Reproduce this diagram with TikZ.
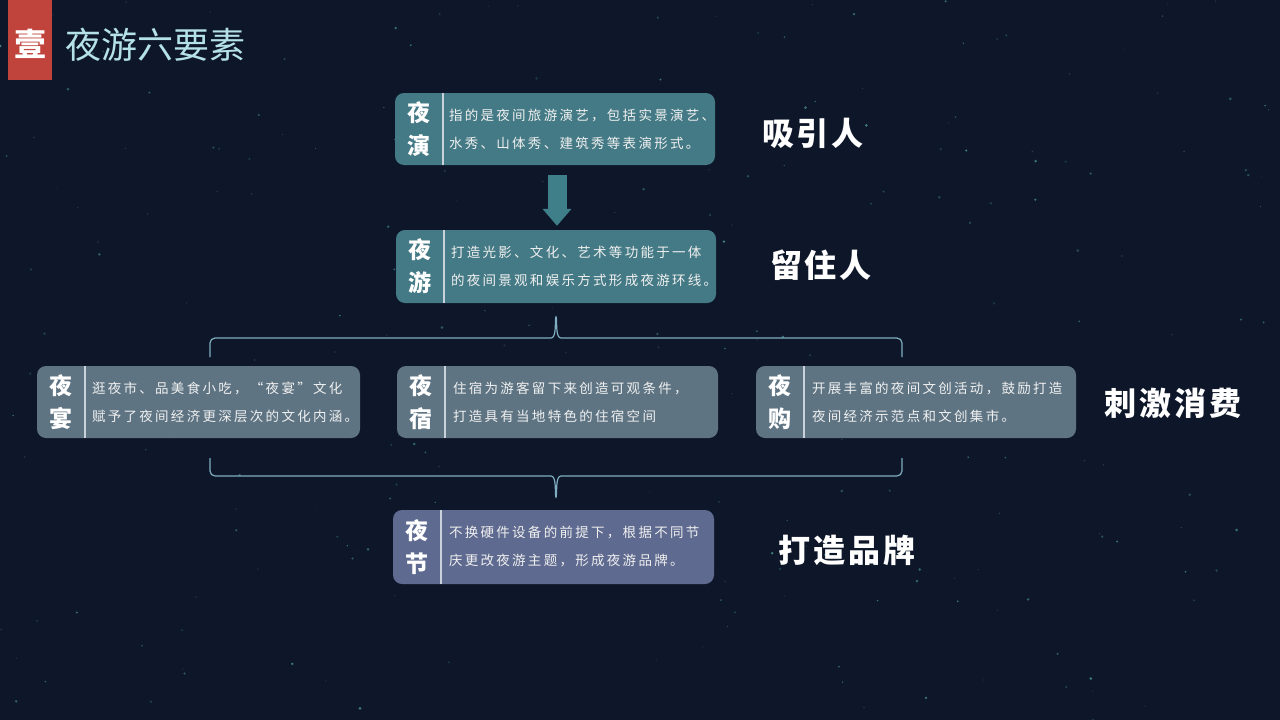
\documentclass[tikz,border=0pt]{standalone}
\usepackage{fontspec}
\usetikzlibrary{arrows.meta}
\newfontfamily\cjk{Noto Sans CJK SC}
\newfontfamily\cjkbody[LetterSpace=17]{Noto Sans CJK SC}
\newfontfamily\cjkwide[LetterSpace=9]{Noto Sans CJK SC}
\definecolor{nightbg}{HTML}{0E1729}
\definecolor{tabred}{HTML}{C0443C}
\definecolor{titlecyan}{HTML}{B4E2E8}
\definecolor{tealcard}{HTML}{447A85}
\definecolor{graycard}{HTML}{5E7483}
\definecolor{violetcard}{HTML}{5E6A8F}
\definecolor{arrowteal}{HTML}{3F7F8A}
\definecolor{divcol}{HTML}{C9D2DA}
\definecolor{bracketcol}{HTML}{7FAEC0}
\definecolor{starcol}{HTML}{5FC4C8}
\begin{document}
\begin{tikzpicture}[x=1pt, y=-1pt,
	card/.style={rectangle, rounded corners=9pt, minimum width=320pt, minimum height=72pt, inner sep=0pt},
	tag/.style={text=white, align=center, inner sep=0pt, font=\cjk\bfseries\fontsize{23}{33}\selectfont},
	body/.style={anchor=west, text=white!94!black, align=left, inner sep=0pt, font=\cjkbody\fontsize{13.5}{28}\selectfont},
	divider/.style={draw=divcol, line width=1.5pt},
	slogan/.style={text=white, font=\cjkwide\bfseries\fontsize{32}{32}\selectfont},
	bracket/.style={draw=bracketcol, line width=1.2pt, rounded corners=5pt}]
	\fill[nightbg] (0,0) rectangle (1280,720);
	\useasboundingbox (0,0) rectangle (1280,720);
	% stars
	\pgfmathsetseed{11}
	\foreach \i in {1,...,260} {
		\pgfmathsetmacro\sx{rnd*1280}
		\pgfmathsetmacro\sy{rnd*720}
		\pgfmathsetmacro\sr{0.4+rnd*1.1}
		\pgfmathsetmacro\so{0.15+rnd*0.45}
		\fill[starcol, opacity=\so] (\sx,\sy) circle (\sr);
	}
	% header
	\node[fill=tabred, minimum width=44pt, minimum height=80pt, inner sep=0pt] (TabNum) at (30,40) {};
	\node[text=white, font=\cjk\bfseries\fontsize{32}{32}\selectfont] (TabChar) at (30,44) {壹};
	\node[text=titlecyan, font=\cjk\fontsize{36}{36}\selectfont] (Title) at (155,45) {夜游六要素};
	% cards
	\node[card, fill=tealcard] (Yeyan) at (555,129) {};
	\node[card, fill=tealcard, minimum height=73pt] (Yeyou) at (556,266.5) {};
	\node[card, fill=graycard, minimum width=323pt] (Yeyan2) at (198.5,402) {};
	\node[card, fill=graycard, minimum width=321pt] (Yesu) at (557.5,402) {};
	\node[card, fill=graycard] (Yegou) at (916,402) {};
	\node[card, fill=violetcard, minimum width=321pt, minimum height=74pt] (Yejie) at (553.5,547) {};
	\foreach \card/\first/\second in {Yeyan/夜/演, Yeyou/夜/游, Yeyan2/夜/宴, Yesu/夜/宿, Yegou/夜/购, Yejie/夜/节} {
		\node[tag] (\card Tag) at ([xshift=24pt]\card.west) {\first\\\second};
		\draw[divider] ([xshift=48pt]\card.north west) -- ([xshift=48pt]\card.south west);
	}
	\node[body] (YeyanText) at ([xshift=54pt]Yeyan.west) {指的是夜间旅游演艺，包括实景演艺、\\水秀、山体秀、建筑秀等表演形式。};
	\node[body] (YeyouText) at ([xshift=55pt]Yeyou.west) {打造光影、文化、艺术等功能于一体\\的夜间景观和娱乐方式形成夜游环线。};
	\node[body] (Yeyan2Text) at ([xshift=55pt]Yeyan2.west) {逛夜市、品美食小吃，“夜宴”文化\\赋予了夜间经济更深层次的文化内涵。};
	\node[body] (YesuText) at ([xshift=56pt]Yesu.west) {住宿为游客留下来创造可观条件，\\打造具有当地特色的住宿空间};
	\node[body] (YegouText) at ([xshift=56pt]Yegou.west) {开展丰富的夜间文创活动，鼓励打造\\夜间经济示范点和文创集市。};
	\node[body] (YejieText) at ([xshift=56pt]Yejie.west) {不换硬件设备的前提下，根据不同节\\庆更改夜游主题，形成夜游品牌。};
	% slogans
	\node[slogan] (Attract) at (813,133) {吸引人};
	\node[slogan] (Retain) at (821,265) {留住人};
	\node[slogan] (Consume) at (1173,403) {刺激消费};
	\node[slogan] (Brand) at (847,550) {打造品牌};
	% arrow
	\draw[arrowteal, line width=19pt, -{Triangle[length=17pt, width=28pt]}] ([xshift=2pt, yshift=-10pt]Yeyan.south) -- ([xshift=1pt, yshift=4pt]Yeyou.north);
	% brackets
	\coordinate (TopTip) at (556,314);
	\coordinate (BottomTip) at (556,500);
	\draw[bracket] (210,357) -- (210,338) -- (546,338) to[out=0, in=-95] (TopTip) to[out=-85, in=180] (566,338) -- (902,338) -- (902,357);
	\draw[bracket] (210,458) -- (210,476) -- (546,476) to[out=0, in=95] (BottomTip) to[out=85, in=180] (566,476) -- (902,476) -- (902,458);
\end{tikzpicture}
\end{document}
